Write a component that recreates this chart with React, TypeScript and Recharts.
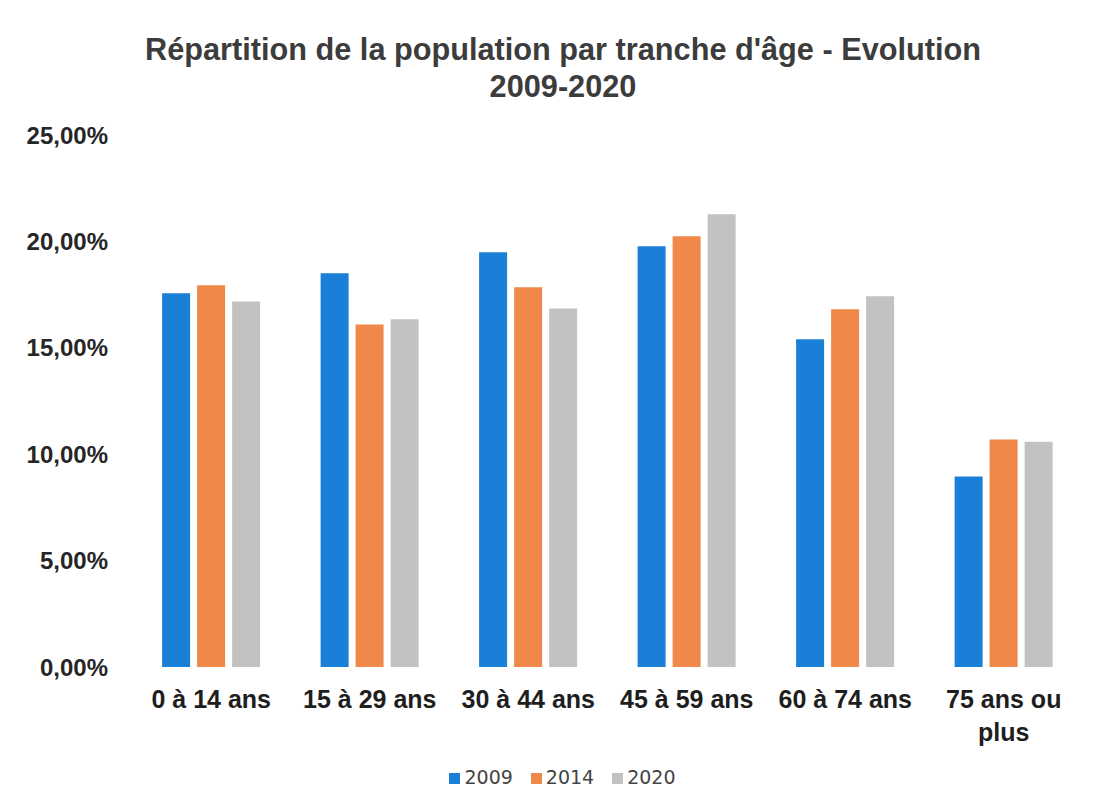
import React from 'react';
import { BarChart, Bar, XAxis, YAxis, Legend } from 'recharts';

const categories = ['0 à 14 ans', '15 à 29 ans', '30 à 44 ans', '45 à 59 ans', '60 à 74 ans', '75 ans ou plus'];
const values2009 = [17.56, 18.5, 19.49, 19.77, 15.4, 8.95];
const values2014 = [17.94, 16.1, 17.84, 20.24, 16.81, 10.69];
const values2020 = [17.18, 16.34, 16.85, 21.28, 17.42, 10.59];
const yTicks = [0, 5, 10, 15, 20, 25];

const data = categories.map((name, i) => ({
  name,
  y2009: values2009[i],
  y2014: values2014[i],
  y2020: values2020[i],
}));

const fmt = (v: number) => v.toFixed(2).replace('.', ',') + '%';

function wrap(label: string, max: number) {
  const words = label.split(' ');
  const lines: string[] = [];
  let cur = '';
  for (const w of words) {
    const next = cur ? cur + ' ' + w : w;
    if (next.length > max && cur) {
      lines.push(cur);
      cur = w;
    } else {
      cur = next;
    }
  }
  if (cur) lines.push(cur);
  return lines;
}

function CategoryTick(props: any) {
  const { x, y, payload } = props;
  const lines = wrap(payload.value, 12);
  return (
    <g transform={`translate(${x},${y})`}>
      {lines.map((l, i) => (
        <text
          key={i}
          x={0}
          y={i * 33}
          dy={39}
          textAnchor="middle"
          fill="#1e1e1e"
          fontSize={25}
          fontWeight="bold"
          fontFamily="'Liberation Sans', Arial, sans-serif"
        >
          {l}
        </text>
      ))}
    </g>
  );
}

export default function App() {
  return (
    <div style={{ position: 'absolute', left: 0, top: 0, width: 1099, height: 801, background: '#fff' }}>
      <div
        style={{
          position: 'absolute',
          left: 0,
          top: 31,
          width: 1126,
          textAlign: 'center',
          fontFamily: "'Liberation Sans', Arial, sans-serif",
          fontWeight: 'bold',
          fontSize: 30.7,
          lineHeight: '37px',
          color: '#3c3c3c',
        }}
      >
        Répartition de la population par tranche d'âge - Evolution
        <br />
        2009-2020
      </div>
      <BarChart
        width={1099}
        height={801}
        data={data}
        margin={{ top: 135, right: 16, bottom: 22, left: 8 }}
        barCategoryGap="19%"
        barGap={7}
      >
        <YAxis
          domain={[0, 25]}
          ticks={yTicks}
          tickFormatter={fmt}
          axisLine={false}
          tickLine={false}
          tickSize={0}
          tickMargin={24}
          width={124}
          tick={{ fill: '#262626', fontSize: 24, fontWeight: 'bold', fontFamily: "'Liberation Sans', Arial, sans-serif" }}
        />
        <XAxis
          dataKey="name"
          axisLine={false}
          tickLine={false}
          tickSize={0}
          interval={0}
          height={90}
          tick={<CategoryTick />}
        />
        <Legend
          verticalAlign="bottom"
          iconType="square"
          iconSize={11}
          wrapperStyle={{
            top: 766,
            left: 22,
            width: 1099,
            fontFamily: "'DejaVu Sans', 'Open Sans', sans-serif",
            fontSize: 19,
          }}
          formatter={(v: string) => <span style={{ color: '#444', marginRight: 8 }}>{v}</span>}
        />
        <Bar dataKey="y2009" name="2009" fill="#1a7fd6" isAnimationActive={false} />
        <Bar dataKey="y2014" name="2014" fill="#f0884a" isAnimationActive={false} />
        <Bar dataKey="y2020" name="2020" fill="#c2c2c2" isAnimationActive={false} />
      </BarChart>
    </div>
  );
}
